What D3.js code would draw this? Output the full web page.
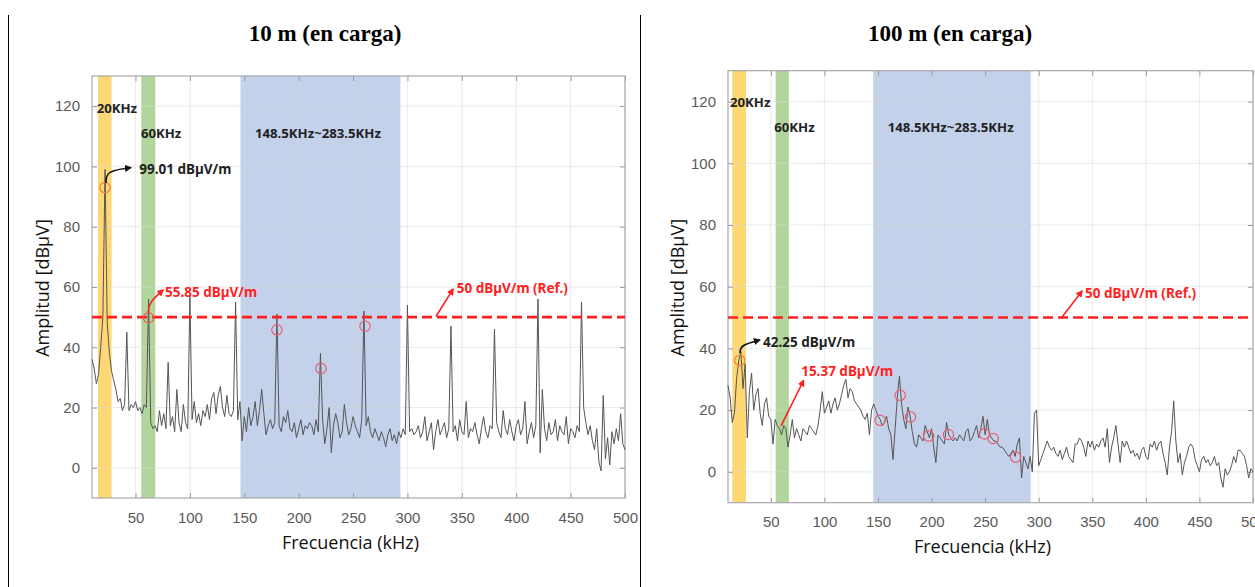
<!DOCTYPE html>
<html><head><meta charset="utf-8">
<script src="https://cdn.jsdelivr.net/npm/d3@7"></script>
<style>body{margin:0;background:#fff}svg{display:block}</style>
</head><body>
<svg id="c" width="1255" height="587"></svg>
<script>
// ---------- data ----------
const freqStart = 10, freqEnd = 500, freqStep = 2;   // kHz grid of the traces
const ampLeft = [
36,33,28,31,40,50,99,48,38,32,
29,26,22,23,19,21,45,19,21,20,
22,19,20,18,21,20,56,15,13,14,
12,19,14,18,13,35,14,17,12,26,
15,12,21,15,13,57,16,22,15,18,
14,19,17,21,16,23,25,18,24,27,
20,17,24,18,17,19,55,16,22,9,
17,12,20,14,17,22,14,19,26,18,
11,14,16,13,15,51,14,12,17,15,
19,13,12,15,10,13,16,11,14,13,
15,14,11,16,12,38,16,8,13,20,
5,14,18,15,10,12,21,15,11,13,
17,14,12,10,16,52,14,17,12,10,
13,11,9,12,10,7,11,13,9,11,
8,12,10,13,11,54,12,13,11,12,
14,10,12,17,9,12,15,6,12,16,
11,13,15,10,13,47,12,14,9,16,
12,11,22,10,13,12,15,11,8,13,
17,12,10,14,13,46,15,12,10,19,
13,11,16,12,9,14,16,11,13,22,
8,12,15,10,14,56,5,26,13,9,
15,11,12,16,9,14,12,11,17,8,
13,12,10,14,12,55,20,15,11,14,
9,6,13,2,-1,24,3,10,1,12,
8,13,9,18,8,6];
const ampRight = [
28,24,16,19,30,36,39,27,35,11,
26,32,20,25,27,19,15,22,24,18,
17,9,17,15,14,12,15,14,8,12,
17,11,14,12,10,14,13,12,15,14,
13,12,15,20,26,19,21,23,19,22,
24,20,22,25,28,30,24,27,26,23,
22,21,20,18,17,19,12,20,22,20,
18,17,15,16,18,14,12,4,14,24,
31,22,17,14,21,18,13,9,8,12,
11,10,15,13,11,14,8,3,12,11,
10,9,16,12,11,10,11,10,12,11,
10,13,14,10,11,13,15,11,14,18,
12,17,12,11,10,10,9,8,8,7,
6,5,6,7,5,9,11,-2,5,3,
1,5,0,19,20,2,4,6,8,10,
8,7,8,6,5,7,4,6,8,5,
4,3,9,9,11,10,8,5,10,8,
10,7,9,8,10,11,8,14,3,8,
11,15,9,3,10,8,10,8,6,7,
5,6,4,7,8,5,4,9,8,10,
7,9,10,6,3,-1,8,13,23,10,
3,6,-1,3,5,8,9,8,4,2,
0,4,5,3,4,2,3,5,2,3,
-2,-5,1,-1,0,2,5,3,7,7,
6,5,2,-2,1,0];
const xTicks = [50,100,150,200,250,300,350,400,450,500];
const yTicks = [0,20,40,60,80,100,120];
const refLevel = 50;
const bandsLeft  = [[15.5,28],[55.3,68.2],[146.5,293.5]];
const bandsRight = [[14,26.8],[54.5,66.8],[145.5,292.5]];
const bandLabels = ["20KHz","60KHz","148.5KHz~283.5KHz"];
const markersLeft  = [[22,93],[62,49.8],[180,45.8],[220.5,33],[261,47]];
const markersRight = [[21,36.1],[152,16.7],[170.7,24.8],[180.3,17.8],[197.3,11.6],[215.7,12.1],[249.4,12.3],[257.5,10.8],[278.4,4.8]];
const notesLeft  = ["99.01 dBµV/m","55.85 dBµV/m","50 dBµV/m (Ref.)"];
const notesRight = ["42.25 dBµV/m","15.37 dBµV/m","50 dBµV/m (Ref.)"];

// ---------- layout ----------
const panels = [
  {amps: ampLeft, bands: bandsLeft, markers: markersLeft, notes: notesLeft,
   title: "10 m (en carga)", titleX: 325,
   px: [92, 625], py: [498, 76], yLabX: 43, xLabY: 549,
   bandLab: [[14.3,119.3],[55,111],[159.8,111]],
   arrows: [ {pts:[[22.9,94.5],[22.9,98.5],[45.5,99.6]], col:"#111", text:[53.5,99], ti:0},
             {pts:[[61.8,51.5],[62.2,54.7],[75.3,59]], col:"#ff1f1f", text:[77.1,58.4], ti:1},
             {pts:[[326.2,50.2],[341.9,59.3]], col:"#ff1f1f", text:[345.3,59.6], ti:2} ],
   markerCols: ["#f0803c","#f05a4a","#e8606e","#e8606e","#e8606e"]},
  {amps: ampRight, bands: bandsRight, markers: markersRight, notes: notesRight,
   title: "100 m (en carga)", titleX: 950,
   px: [728, 1253], py: [502.7, 70.7], yLabX: 678, xLabY: 553,
   bandLab: [[11.9,119.8],[53.2,111.5],[159,111.5]],
   arrows: [ {pts:[[21.2,38.5],[21.7,41.1],[39.5,42.7]], col:"#111", text:[42.7,42.1], ti:0},
             {pts:[[59.5,14.9],[80.5,29.6]], col:"#ff1f1f", text:[78.3,32.7], ti:1},
             {pts:[[321.7,50.1],[340.4,58.6]], col:"#ff1f1f", text:[343.2,58], ti:2} ],
   markerCols: ["#f0803c","#e8606e","#e8606e","#e8606e","#e8606e","#e8606e","#e8606e","#e8606e","#e8606e"]}
];
const bandColors = ["#fed874","#b2d59c","#c3d1eb"];

const svg = d3.select("#c");
svg.append("rect").attr("width",1255).attr("height",587).attr("fill","#fff");
const defs = svg.append("defs");
[["ah-k","#111"],["ah-r","#ff1f1f"]].forEach(([id,c])=>{
  defs.append("marker").attr("id",id).attr("viewBox","0 0 10 10").attr("refX",8).attr("refY",5)
    .attr("markerWidth",4.5).attr("markerHeight",4.5).attr("orient","auto")
    .append("path").attr("d","M0,0 L10,5 L0,10 z").attr("fill",c);
});

// table border lines
svg.append("line").attr("x1",8.5).attr("x2",8.5).attr("y1",15).attr("y2",587).attr("stroke","#000");
svg.append("line").attr("x1",640.5).attr("x2",640.5).attr("y1",15).attr("y2",587).attr("stroke","#000");

const freqs = d3.range(freqStart, freqEnd + 0.001, freqStep);

panels.forEach((p,pi)=>{
  const x = d3.scaleLinear().domain([10,500]).range(p.px);
  const y = d3.scaleLinear().domain([-10,130]).range(p.py);
  const g = svg.append("g");
  const W = p.px[1]-p.px[0], H = p.py[0]-p.py[1];

  // title
  svg.append("text").attr("x",p.titleX).attr("y",41).attr("text-anchor","middle")
    .attr("font-family","'Liberation Serif', serif").attr("font-weight","bold")
    .attr("font-size",23).attr("fill","#000").text(p.title);

  // bands
  g.selectAll("rect.band").data(p.bands).join("rect")
    .attr("x",d=>x(d[0])).attr("width",d=>x(d[1])-x(d[0]))
    .attr("y",p.py[1]).attr("height",H).attr("fill",(d,i)=>bandColors[i]);

  // grid
  g.selectAll("line.gx").data(xTicks).join("line")
    .attr("x1",d=>x(d)).attr("x2",d=>x(d)).attr("y1",p.py[0]).attr("y2",p.py[1])
    .attr("stroke","#d8d8d8").attr("stroke-opacity",0.55);
  g.selectAll("line.gy").data(yTicks).join("line")
    .attr("y1",d=>y(d)).attr("y2",d=>y(d)).attr("x1",p.px[0]).attr("x2",p.px[1])
    .attr("stroke","#d8d8d8").attr("stroke-opacity",0.55);

  // axes (ticks inside)
  const ax = g.append("g").attr("transform",`translate(0,${p.py[0]})`)
    .call(d3.axisBottom(x).tickValues(xTicks).tickSizeInner(-5).tickSizeOuter(0).tickPadding(14));
  const axT = g.append("g").attr("transform",`translate(0,${p.py[1]})`)
    .call(d3.axisTop(x).tickValues(xTicks).tickSizeInner(-5).tickSizeOuter(0).tickFormat(""));
  const ay = g.append("g").attr("transform",`translate(${p.px[0]},0)`)
    .call(d3.axisLeft(y).tickValues(yTicks).tickSizeInner(-5).tickSizeOuter(0).tickPadding(12));
  const ayR = g.append("g").attr("transform",`translate(${p.px[1]},0)`)
    .call(d3.axisRight(y).tickValues(yTicks).tickSizeInner(-5).tickSizeOuter(0).tickFormat(""));
  [ax,axT,ay,ayR].forEach(a=>{
    a.select(".domain").remove();
    a.selectAll("line").attr("stroke","#9a9a9a");
    a.selectAll("text").attr("font-family","'Liberation Sans', Arial, sans-serif")
      .attr("font-size",15).attr("fill","#5a5a5a");
  });
  // box
  g.append("rect").attr("x",p.px[0]).attr("y",p.py[1]).attr("width",W).attr("height",H)
    .attr("fill","none").attr("stroke","#a8a8a8").attr("stroke-width",1.2);

  // trace
  const data = freqs.map((f,i)=>[f,p.amps[i]]);
  g.append("path").datum(data)
    .attr("d",d3.line().x(d=>x(d[0])).y(d=>y(d[1])))
    .attr("fill","none").attr("stroke","#555").attr("stroke-width",1).attr("stroke-linejoin","round");

  // reference line
  g.append("line").attr("x1",p.px[0]).attr("x2",p.px[1]).attr("y1",y(refLevel)).attr("y2",y(refLevel))
    .attr("stroke","#ff1f1f").attr("stroke-width",2.6).attr("stroke-dasharray","10,5");

  // markers
  g.selectAll("circle.m").data(p.markers).join("circle")
    .attr("cx",d=>x(d[0])).attr("cy",d=>y(d[1])).attr("r",5.2)
    .attr("fill","none").attr("stroke",(d,i)=>p.markerCols[i]).attr("stroke-width",1.2);

  // band labels
  g.selectAll("text.bl").data(p.bandLab).join("text")
    .attr("x",d=>x(d[0])).attr("y",d=>y(d[1])).attr("dy","0.35em")
    .attr("font-family","'Noto Sans', sans-serif").attr("font-weight","bold")
    .attr("font-size",13.2).attr("fill","#222").text((d,i)=>bandLabels[i]);

  // annotation arrows + notes
  p.arrows.forEach(a=>{
    g.append("path").attr("d",d3.line().x(d=>x(d[0])).y(d=>y(d[1])).curve(d3.curveBasis)(a.pts))
      .attr("fill","none").attr("stroke",a.col).attr("stroke-width",1.6)
      .attr("marker-end",`url(#${a.col==="#111"?"ah-k":"ah-r"})`);
    g.append("text").attr("x",x(a.text[0])).attr("y",y(a.text[1])).attr("dy","0.35em")
      .attr("font-family","'Noto Sans', sans-serif").attr("font-weight","bold")
      .attr("font-size",13.5).attr("fill",a.col==="#111"?"#222":"#ff1f1f").text(p.notes[a.ti]);
  });

  // axis titles
  svg.append("text").attr("x",(p.px[0]+p.px[1])/2 - 8).attr("y",p.xLabY).attr("text-anchor","middle")
    .attr("font-family","'Open Sans', sans-serif").attr("font-size",18).attr("fill","#111")
    .text("Frecuencia (kHz)");
  svg.append("text").attr("transform",`translate(${p.yLabX},${(p.py[0]+p.py[1])/2+1}) rotate(-90)`)
    .attr("text-anchor","middle").attr("dy","0.35em")
    .attr("font-family","'Open Sans', sans-serif").attr("font-size",18).attr("fill","#111")
    .text("Amplitud [dBµV]");
});
</script>
</body></html>
